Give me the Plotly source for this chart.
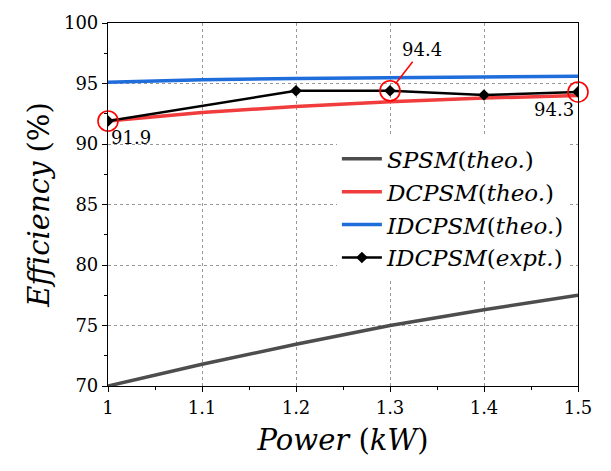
import plotly.graph_objects as go

power = [1.0, 1.1, 1.2, 1.3, 1.4, 1.5]
spsm_theo = [70.0, 71.8, 73.45, 75.0, 76.3, 77.5]
dcpsm_theo = [91.9, 92.6, 93.1, 93.5, 93.8, 94.0]
idcpsm_theo = [95.1, 95.3, 95.42, 95.5, 95.56, 95.6]

power_expt = [1.0, 1.2, 1.3, 1.4, 1.5]
idcpsm_expt = [91.9, 94.4, 94.4, 94.05, 94.3]

hl_x = [1.0, 1.3, 1.5]
hl_y = [91.9, 94.4, 94.3]
hl_text = ["91.9", "94.4", "94.3"]

serif = "DejaVu Serif"

fig = go.Figure()
fig.add_trace(go.Scatter(x=power, y=spsm_theo, mode="lines",
                         line=dict(color="#4d4d4d", width=3.5),
                         name="<i>SPSM</i>(<i>theo.</i>)"))
fig.add_trace(go.Scatter(x=power, y=dcpsm_theo, mode="lines",
                         line=dict(color="#f03c3c", width=3.5),
                         name="<i>DCPSM</i>(<i>theo.</i>)"))
fig.add_trace(go.Scatter(x=power, y=idcpsm_theo, mode="lines",
                         line=dict(color="#1f6ddb", width=3.5),
                         name="<i>IDCPSM</i>(<i>theo.</i>)"))
fig.add_trace(go.Scatter(x=power_expt, y=idcpsm_expt, mode="lines+markers",
                         line=dict(color="black", width=2.5),
                         marker=dict(symbol="diamond", size=9, color="black"),
                         name="<i>IDCPSM</i>(<i>expt.</i>)"))
fig.add_trace(go.Scatter(x=hl_x, y=hl_y, mode="markers", showlegend=False,
                         marker=dict(symbol="circle-open", size=20,
                                     color="#ff0000", line=dict(width=1.6, color="#ff0000")),
                         cliponaxis=False))

fig.add_annotation(x=hl_x[0], y=hl_y[0], text=hl_text[0], showarrow=False,
                   xanchor="left", yanchor="top", xshift=1, yshift=-4,
                   font=dict(family=serif, size=18, color="black"))
fig.add_annotation(x=hl_x[1], y=hl_y[1], text=hl_text[1], showarrow=True,
                   arrowhead=0, arrowcolor="#ff0000", arrowwidth=1.5,
                   standoff=9, ax=32, ay=-41,
                   font=dict(family=serif, size=18, color="black"))
fig.add_annotation(x=hl_x[2], y=hl_y[2], text=hl_text[2], showarrow=False,
                   xanchor="right", yanchor="top", xshift=-2, yshift=-5,
                   font=dict(family=serif, size=18, color="black"))

axis_common = dict(
    showline=True, linecolor="black", linewidth=1.2, mirror=True,
    showgrid=True, gridcolor="#999999", griddash="dot", gridwidth=1,
    ticks="outside", ticklen=5, tickcolor="black", zeroline=False,
    tickfont=dict(family=serif, size=18, color="black"),
)

fig.update_xaxes(range=[1.0, 1.5], dtick=0.1, tickformat="~g",
                 minor=dict(dtick=0.05, ticks="outside", ticklen=3, tickcolor="black", showgrid=False),
                 title=dict(text="<i>Power</i> (<i>kW</i>)", font=dict(family=serif, size=29, color="black"),
                            standoff=12),
                 **axis_common)
fig.update_yaxes(range=[70, 100], dtick=5,
                 minor=dict(dtick=2.5, ticks="outside", ticklen=3, tickcolor="black", showgrid=False),
                 title=dict(text="<i>Efficiency</i> (%)", font=dict(family=serif, size=29, color="black"),
                            standoff=5),
                 **axis_common)

fig.update_layout(
    width=611, height=471,
    margin=dict(l=108, r=33, t=15, b=85),
    plot_bgcolor="white", paper_bgcolor="white",
    font=dict(family=serif),
    showlegend=True,
    legend=dict(x=0.487, y=0.685, xanchor="left", yanchor="top",
                bgcolor="white", borderwidth=0,
                font=dict(family=serif, size=23, color="black"),
                tracegroupgap=0, itemwidth=40),
)

fig.write_html("out.html")
